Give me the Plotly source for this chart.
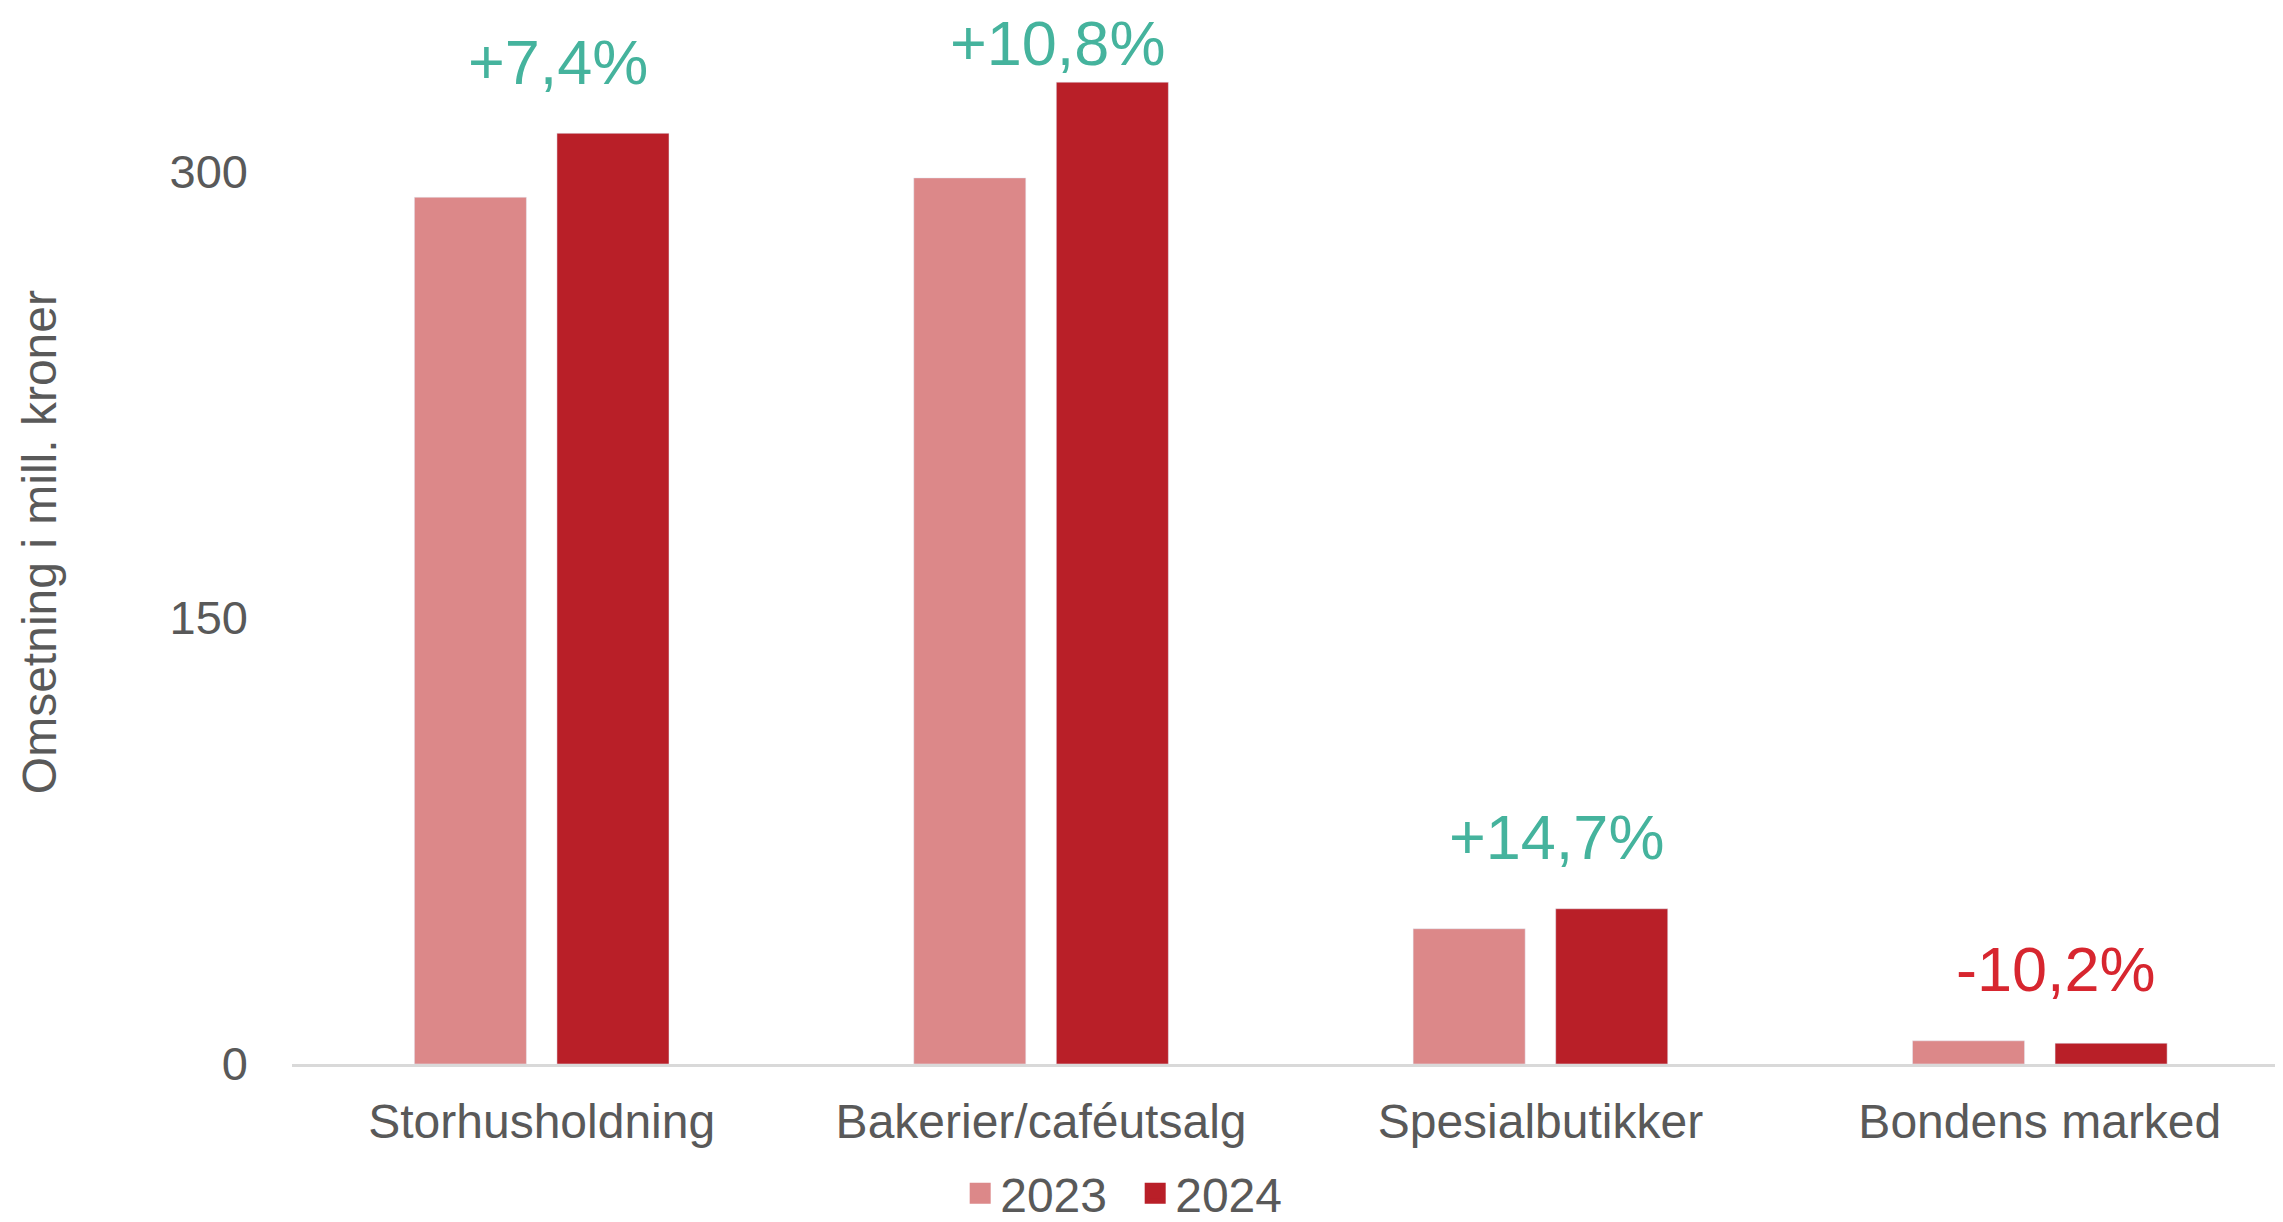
import plotly.graph_objs as go

# data
categories = ['Storhusholdning', 'Bakerier/caféutsalg', 'Spesialbutikker', 'Bondens marked']
values_2023 = [291.5, 298.0, 45.5, 7.8]
values_2024 = [313.0, 330.2, 52.2, 7.0]
change_labels = ['+7,4%', '+10,8%', '+14,7%', '-10,2%']

color_2023 = '#DC8889'
color_2024 = '#B91F28'
green = '#45B39D'
red = '#D7262F'
gray = '#595959'
font_family = 'Arial, Liberation Sans, sans-serif'

y_top = 351.1

trace0 = go.Bar(x=categories, y=values_2023, name='2023',
                marker=dict(color=color_2023), showlegend=False)
trace1 = go.Bar(x=categories, y=values_2024, name='2024',
                marker=dict(color=color_2024), showlegend=False)
# legend entries (bigger squares than the bar legend icon)
leg0 = go.Scatter(x=[None], y=[None], mode='markers', name='2023',
                  marker=dict(symbol='square', size=25, color=color_2023,
                              line=dict(width=5, color=color_2023)))
leg1 = go.Scatter(x=[None], y=[None], mode='markers', name='2024',
                  marker=dict(symbol='square', size=25, color=color_2024,
                              line=dict(width=5, color=color_2024)))

fig = go.Figure(data=[trace0, trace1, leg0, leg1])

annotations = []
for cat, a, b, lab in zip(categories, values_2023, values_2024, change_labels):
    annotations.append(dict(
        x=cat, y=min(max(a, b) + 24, 343.3), xref='x', yref='y',
        text=lab, showarrow=False, xshift=16,
        font=dict(size=63, color=red if lab.startswith('-') else green,
                  family=font_family)))

annotations.append(dict(
    x=-0.127, y=0.5, xref='paper', yref='paper', xanchor='center',
    yanchor='middle', text='Omsetning i mill. kroner', textangle=-90,
    showarrow=False, font=dict(size=48, color=gray, family=font_family)))

# page body has an 8px margin, so the figure is 16px smaller
fig.update_layout(
    width=2275, height=1214,
    margin=dict(l=284, r=0, t=12, b=158, autoexpand=False),
    paper_bgcolor='white', plot_bgcolor='white',
    barmode='group', bargap=0.429, bargroupgap=0.214,
    font=dict(family=font_family, color=gray, size=48),
    xaxis=dict(range=[-0.5, 3.487], showline=True, linecolor='#D9D9D9',
               linewidth=3, ticks='', showgrid=False, zeroline=False,
               automargin=False,
               tickfont=dict(size=48, color=gray), ticklabelstandoff=13),
    yaxis=dict(range=[0, y_top], tickvals=[0, 150, 300], showgrid=False,
               zeroline=False, showline=False, ticks='', automargin=False,
               tickfont=dict(size=47, color=gray), ticklabelstandoff=43),
    legend=dict(orientation='h', x=0.4235, xanchor='center', y=-0.124,
                yanchor='middle', font=dict(size=48, color=gray),
                entrywidth=130, itemclick=False),
    annotations=annotations,
)

fig.write_html("out.html")
